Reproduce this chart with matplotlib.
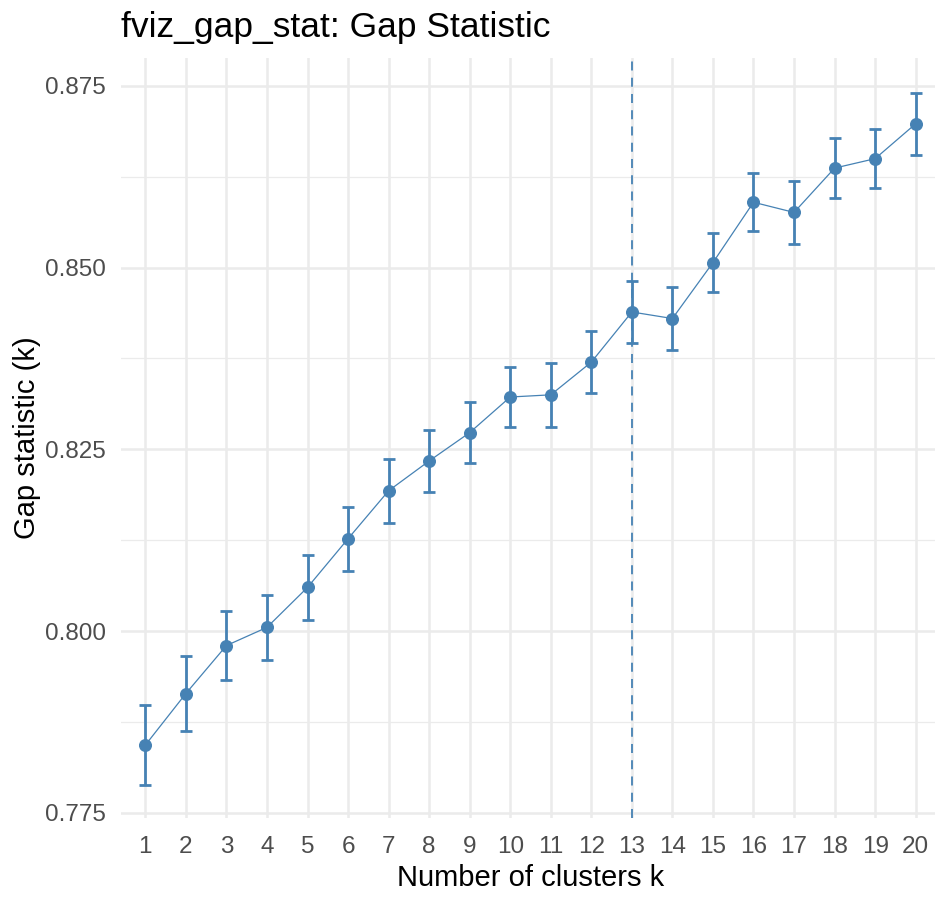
import matplotlib.pyplot as plt
from matplotlib.ticker import MultipleLocator

# gap statistic per number of clusters
k_values = list(range(1, 21))
gap = [0.7843, 0.7914, 0.7980, 0.8005, 0.8060, 0.8127, 0.8193, 0.8234, 0.8273, 0.8322,
       0.8325, 0.8370, 0.8439, 0.8430, 0.8507, 0.8590, 0.8576, 0.8637, 0.8650, 0.8698]
gap_se = [0.0055, 0.0052, 0.0048, 0.0045, 0.0045, 0.0044, 0.0044, 0.0043, 0.0042, 0.0041,
          0.0044, 0.0043, 0.0043, 0.0043, 0.0041, 0.0040, 0.0043, 0.0041, 0.0041, 0.0043]
optimal_k = 13
y_ticks = [0.775, 0.800, 0.825, 0.850, 0.875]

color = '#4682B4'
grid_col = '#EBEBEB'
text_col = '#4D4D4D'
plt.rcParams['font.family'] = ['Liberation Sans', 'DejaVu Sans']

fig = plt.figure(figsize=(9.35, 8.99), dpi=100, facecolor='white')
ax = fig.add_axes([121 / 935, 1 - 818 / 899, 819 / 935, 760 / 899])

ax.set_xlim(0.4, 20.6)
ax.set_ylim(0.77427, 0.87885)

# grid like theme_minimal
ax.set_yticks(y_ticks)
ax.yaxis.set_minor_locator(MultipleLocator(0.0125))
ax.set_xticks(k_values)
ax.set_xticklabels([str(k) for k in k_values])
ax.grid(which='major', color=grid_col, linewidth=1.8, zorder=0)
ax.grid(which='minor', axis='y', color=grid_col, linewidth=0.9, zorder=0)
ax.set_axisbelow(True)
for s in ax.spines.values():
    s.set_visible(False)
ax.tick_params(which='both', length=0)
ax.tick_params(axis='y', pad=11, labelsize=17.5, labelcolor=text_col)
ax.tick_params(axis='x', pad=13, labelsize=17.5, labelcolor=text_col)
ax.yaxis.set_major_formatter(plt.FuncFormatter(lambda v, p: f'{v:.3f}'))

ax.axvline(optimal_k, color=color, linestyle=(0, (5, 4)), linewidth=1.3, zorder=2)
ax.plot(k_values, gap, color=color, linewidth=0.9, zorder=3)
ax.errorbar(k_values, gap, yerr=gap_se, fmt='none', ecolor=color, elinewidth=2,
            capsize=4, capthick=2, zorder=4)
ax.scatter(k_values, gap, color=color, s=70, zorder=5)

ax.set_xlabel('Number of clusters k', fontsize=21, labelpad=4)
ax.set_ylabel('Gap statistic (k)', fontsize=21, labelpad=3)
fig.text(121 / 935, 1 - 37 / 899, 'fviz_gap_stat: Gap Statistic', fontsize=25.5,
         ha='left', va='baseline')

fig.savefig('out.png', dpi=100, facecolor='white')
